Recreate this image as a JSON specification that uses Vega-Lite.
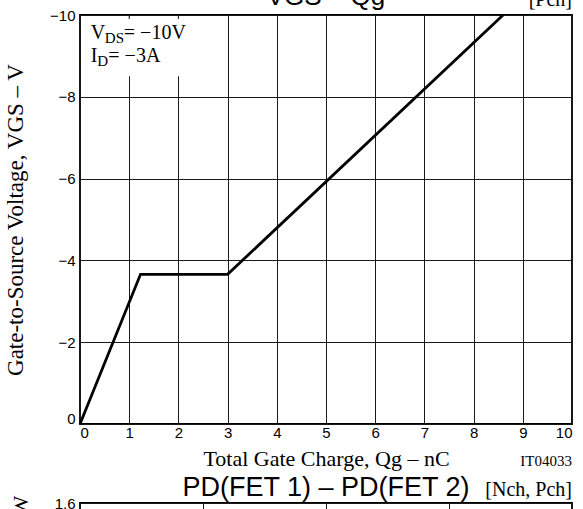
{
  "$schema": "https://vega.github.io/schema/vega-lite/v6.json",
  "padding": {"left": 3, "top": -18, "right": 0, "bottom": 0},
  "bounds": "flush",
  "spacing": 79,
  "config": {
    "view": {"stroke": "black", "strokeWidth": 1.8},
    "axis": {
      "domain": false, "ticks": false, "tickSize": 0,
      "grid": true, "gridColor": "#1a1a1a", "gridWidth": 1, "gridOpacity": 1,
      "labelFont": "Liberation Sans", "labelFontSize": 15, "labelColor": "black",
      "titleFont": "Liberation Serif", "titleFontSize": 22, "titleFontWeight": "normal", "titleColor": "black"
    },
    "title": {"font": "Liberation Sans", "fontSize": 26, "fontWeight": "normal", "color": "black", "baseline": "alphabetic"},
    "text": {"color": "black"}
  },
  "vconcat": [
    {
      "width": 492,
      "height": 409,
      "title": {"text": "VGS  –  Qg", "offset": -19.5},
      "layer": [
        {
          "data": {"values": [{}]},
          "mark": {"type": "rect", "color": "white"},
          "encoding": {
            "x": {"datum": 0.04, "type": "quantitative"},
            "x2": {"datum": 2.94},
            "y": {"datum": -9.96, "type": "quantitative"},
            "y2": {"datum": -8.5}
          }
        },
        {
          "data": {"values": [{"q": 1}, {"q": 2}]},
          "mark": {"type": "rule", "color": "#1a1a1a", "strokeWidth": 1},
          "encoding": {
            "x": {"field": "q", "type": "quantitative"},
            "y": {"datum": -10, "type": "quantitative"},
            "y2": {"datum": -9.9}
          }
        },
        {
          "data": {"values": [
            {"qg": 0, "vgs": 0},
            {"qg": 1.23, "vgs": -3.66},
            {"qg": 3.0, "vgs": -3.66},
            {"qg": 8.6, "vgs": -10}
          ]},
          "mark": {"type": "line", "color": "black", "strokeWidth": 2.8},
          "encoding": {
            "x": {
              "field": "qg", "type": "quantitative",
              "scale": {"domain": [0, 10], "nice": false, "zero": false},
              "axis": {"values": [0, 1, 2, 3, 4, 5, 6, 7, 8, 9, 10], "labelPadding": 1, "title": "Total Gate Charge, Qg  –  nC", "titlePadding": 8}
            },
            "y": {
              "field": "vgs", "type": "quantitative",
              "scale": {"domain": [-10, 0], "reverse": true, "nice": false, "zero": false},
              "axis": {
                "values": [-10, -8, -6, -4, -2, 0], "labelPadding": 5,
                "labelOffset": {"condition": {"test": "datum.value === 0", "value": -6}, "value": 0},
                "title": "Gate-to-Source Voltage, VGS  –  V", "titlePadding": 22, "titleFontSize": 23
              }
            }
          }
        },
        {
          "data": {"values": [{}]},
          "mark": {"type": "text", "text": "V", "font": "Liberation Serif", "fontSize": 20, "align": "left", "baseline": "alphabetic"},
          "encoding": {"x": {"datum": 0.22, "type": "quantitative"}, "y": {"datum": -9.42, "type": "quantitative"}}
        },
        {
          "data": {"values": [{}]},
          "mark": {"type": "text", "text": "DS", "font": "Liberation Serif", "fontSize": 15, "align": "left", "baseline": "alphabetic", "dx": 14, "dy": 4},
          "encoding": {"x": {"datum": 0.22, "type": "quantitative"}, "y": {"datum": -9.42, "type": "quantitative"}}
        },
        {
          "data": {"values": [{}]},
          "mark": {"type": "text", "text": "= −10V", "font": "Liberation Serif", "fontSize": 20, "align": "left", "baseline": "alphabetic", "dx": 33},
          "encoding": {"x": {"datum": 0.22, "type": "quantitative"}, "y": {"datum": -9.42, "type": "quantitative"}}
        },
        {
          "data": {"values": [{}]},
          "mark": {"type": "text", "text": "I", "font": "Liberation Serif", "fontSize": 20, "align": "left", "baseline": "alphabetic"},
          "encoding": {"x": {"datum": 0.22, "type": "quantitative"}, "y": {"datum": -8.86, "type": "quantitative"}}
        },
        {
          "data": {"values": [{}]},
          "mark": {"type": "text", "text": "D", "font": "Liberation Serif", "fontSize": 15, "align": "left", "baseline": "alphabetic", "dx": 6.5, "dy": 4},
          "encoding": {"x": {"datum": 0.22, "type": "quantitative"}, "y": {"datum": -8.86, "type": "quantitative"}}
        },
        {
          "data": {"values": [{}]},
          "mark": {"type": "text", "text": "= −3A", "font": "Liberation Serif", "fontSize": 20, "align": "left", "baseline": "alphabetic", "dx": 17.5},
          "encoding": {"x": {"datum": 0.22, "type": "quantitative"}, "y": {"datum": -8.86, "type": "quantitative"}}
        },
        {
          "data": {"values": [{}]},
          "mark": {"type": "text", "text": "[Pch]", "font": "Liberation Serif", "fontSize": 20, "align": "right", "baseline": "alphabetic", "dy": -9},
          "encoding": {"x": {"datum": 10, "type": "quantitative"}, "y": {"datum": -10, "type": "quantitative"}}
        },
        {
          "data": {"values": [{}]},
          "mark": {"type": "text", "text": "IT04033", "font": "Liberation Serif", "fontSize": 15, "align": "right", "baseline": "alphabetic", "dy": 42},
          "encoding": {"x": {"datum": 10, "type": "quantitative"}, "y": {"datum": 0, "type": "quantitative"}}
        }
      ]
    },
    {
      "width": 492,
      "height": 298,
      "title": {"text": "PD(FET 1)  –  PD(FET 2)", "offset": -21.5, "fontSize": 27},
      "layer": [
        {
          "data": {"values": [{}]},
          "mark": {"type": "text", "text": "[Nch, Pch]", "font": "Liberation Serif", "fontSize": 20, "align": "right", "baseline": "alphabetic", "dy": -7},
          "encoding": {
            "x": {
              "datum": 1.6, "type": "quantitative",
              "scale": {"domain": [0, 1.6], "nice": false, "zero": false},
              "axis": {"values": [0, 0.4, 0.8, 1.2, 1.6], "format": ".1f", "labelPadding": 2, "title": "Power Dissipation, PD(FET 1)  –  W", "titlePadding": 10}
            },
            "y": {
              "datum": 1.6, "type": "quantitative",
              "scale": {"domain": [0, 1.6], "nice": false, "zero": false},
              "axis": {"values": [0, 0.2, 0.4, 0.6, 0.8, 1.0, 1.2, 1.4, 1.6], "format": ".1f", "labelPadding": 5, "title": "Power Dissipation, PD(FET 2)  –  W", "titlePadding": 22}
            }
          }
        }
      ]
    }
  ]
}
